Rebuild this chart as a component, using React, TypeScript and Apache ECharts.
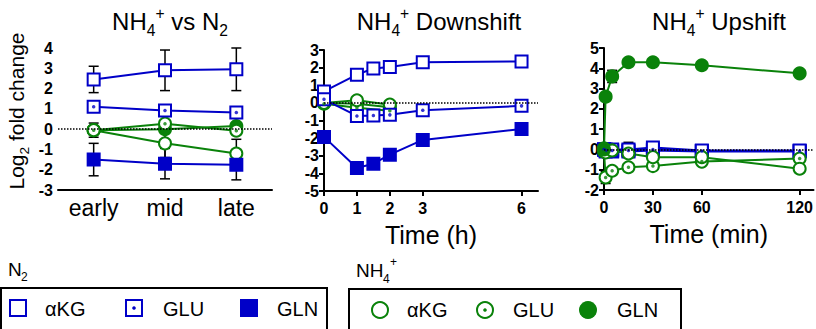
import React, { useEffect, useRef } from 'react';
import * as echarts from 'echarts';

const BLUE = '#0000c8';
const GREEN = '#0a820a';
const FONT = 'Liberation Sans, Arial, sans-serif';
const CSSFONT = '"Liberation Sans", Arial, sans-serif';

// Panel 1: NH4+ vs N2
const stages = ['early', 'mid', 'late'];
const vsN2Akg = [2.45, 2.9, 2.95];
const vsN2AkgErr = [0.65, 1.0, 1.05];
const vsN2Glu = [1.1, 0.92, 0.82];
const vsN2GluErr = [0.1, 0.1, 0.1];
const vsN2Gln = [-1.5, -1.7, -1.75];
const vsN2GlnErr = [0.8, 0.75, 0.75];
const vsNh4Akg = [-0.05, -0.7, -1.2];
const vsNh4AkgErr = [0.35, 0.7, 0.7];
const vsNh4Glu = [-0.05, 0.27, -0.08];
const vsNh4Gln = [-0.05, 0.0, 0.15];

// Panel 2: NH4+ Downshift (hours)
const downTimes = [0, 1, 1.5, 2, 3, 6];
const downN2Akg = [0.65, 1.6, 1.95, 2.03, 2.3, 2.35];
const downN2Glu = [0.2, -0.74, -0.72, -0.68, -0.42, -0.17];
const downN2GluErr = [0, 0, 0, 0, 0, 0.3];
const downN2Gln = [-1.93, -3.7, -3.45, -2.94, -2.1, -1.48];
const downN2GlnErr = [0, 0, 0, 0, 0.3, 0];
const downGreenTimes = [0, 1, 2];
const downNh4Akg = [0, 0.15, -0.1];
const downNh4Glu = [-0.05, -0.28, -0.45];
const downNh4Gln = [0, -0.05, -0.25];

// Panel 3: NH4+ Upshift (minutes)
const upTimes = [0, 1, 5, 15, 30, 60, 120];
const upNh4Gln = [0, 2.6, 3.6, 4.3, 4.3, 4.15, 3.75];
const upNh4GlnErr = [0, 0, 0.3, 0, 0, 0, 0];
const upNh4Akg = [0.05, -0.15, -0.05, -0.2, -0.38, -0.38, -0.95];
const upNh4Glu = [-0.1, -1.38, -1.05, -0.88, -0.82, -0.6, -0.45];
const upNh4GluErr = [0, 0.3, 0, 0, 0, 0, 0];
const upN2Akg = [0, 0, 0, 0.0, 0.1, -0.05, -0.05];
const upN2AkgErr = [0, 0, 0, 0.35, 0, 0, 0];
const upN2Glu = [0, -0.05, -0.05, -0.05, 0, -0.08, -0.08];
const upN2Gln = [0, -0.1, -0.1, -0.1, -0.05, -0.1, -0.1];

const xTicksDown = [0, 1, 2, 3, 6];
const xTicksUp = [0, 30, 60, 120];

type Kind = 'open' | 'dot' | 'filled';

function makeSeries(
  panel: number,
  xs: (number | string)[],
  ys: number[],
  color: string,
  kind: Kind,
  shape: 'rect' | 'circle',
  errs?: number[],
  withZero?: boolean
) {
  const data = ys.map((y, i) => [panel === 0 ? i : xs[i], y]);
  const out: any[] = [];
  if (errs) {
    const eData: any[] = [];
    errs.forEach((e, i) => {
      if (e > 0) eData.push([panel === 0 ? i : xs[i], ys[i] - e, ys[i] + e]);
    });
    out.push({
      type: 'custom',
      xAxisIndex: panel,
      yAxisIndex: panel,
      z: 1,
      silent: true,
      data: eData,
      encode: { x: 0, y: [1, 2] },
      renderItem: (params: any, api: any) => {
        const x = api.value(0);
        const lo = api.coord([x, api.value(1)]);
        const hi = api.coord([x, api.value(2)]);
        const w = 5;
        const st = { stroke: '#000', lineWidth: 1.5 };
        return {
          type: 'group',
          children: [
            { type: 'line', shape: { x1: lo[0], y1: lo[1], x2: hi[0], y2: hi[1] }, style: st },
            { type: 'line', shape: { x1: lo[0] - w, y1: lo[1], x2: lo[0] + w, y2: lo[1] }, style: st },
            { type: 'line', shape: { x1: hi[0] - w, y1: hi[1], x2: hi[0] + w, y2: hi[1] }, style: st },
          ],
        };
      },
    });
  }
  const line: any = {
    type: 'line',
    xAxisIndex: panel,
    yAxisIndex: panel,
    data,
    z: 2,
    symbol: shape,
    symbolSize: 12,
    showSymbol: true,
    silent: true,
    lineStyle: { color, width: 2 },
    itemStyle: {
      color: kind === 'filled' ? color : '#fff',
      borderColor: color,
      borderWidth: 2,
    },
    emphasis: { disabled: true },
  };
  if (withZero) {
    line.markLine = {
      silent: true,
      symbol: 'none',
      label: { show: false },
      lineStyle: { type: 'dotted', color: '#000', width: 1.5 },
      data: [{ yAxis: 0 }],
    };
  }
  out.push(line);
  if (kind === 'dot') {
    out.push({
      type: 'scatter',
      xAxisIndex: panel,
      yAxisIndex: panel,
      data,
      z: 3,
      symbol: 'circle',
      symbolSize: 3.5,
      silent: true,
      itemStyle: { color },
    });
  }
  return out;
}

const subRich = (size: number) => ({
  a: { fontSize: size, fontFamily: FONT, fontWeight: 'normal', color: '#000', lineHeight: size * 1.4 },
  s: { fontSize: size * 0.65, fontFamily: FONT, fontWeight: 'normal', color: '#000', lineHeight: size * 0.7, verticalAlign: 'bottom' },
  p: { fontSize: size * 0.65, fontFamily: FONT, fontWeight: 'normal', color: '#000', lineHeight: size * 0.7, verticalAlign: 'top' },
});

const axisBase = {
  axisLine: { onZero: false, lineStyle: { color: '#000', width: 2 } },
  axisTick: { length: 5, lineStyle: { color: '#000', width: 2 } },
  splitLine: { show: false },
};
const boldLabel = { color: '#000', fontWeight: 'bold', fontSize: 16, fontFamily: FONT };
const gText = (x: number, y: number, text: string, size: number) => ({
  type: 'text',
  x,
  y,
  style: { text, font: `${size}px ${CSSFONT}`, fill: '#000', verticalAlign: 'middle' },
});

export default function App() {
  const ref = useRef<HTMLDivElement>(null);
  useEffect(() => {
    if (!ref.current) return;
    const chart = echarts.init(ref.current, undefined, { renderer: 'svg' });

    const series: any[] = [
      ...makeSeries(0, stages, vsNh4Gln, GREEN, 'filled', 'circle', undefined, true),
      ...makeSeries(0, stages, vsNh4Glu, GREEN, 'dot', 'circle'),
      ...makeSeries(0, stages, vsNh4Akg, GREEN, 'open', 'circle', vsNh4AkgErr),
      ...makeSeries(0, stages, vsN2Akg, BLUE, 'open', 'rect', vsN2AkgErr),
      ...makeSeries(0, stages, vsN2Glu, BLUE, 'dot', 'rect', vsN2GluErr),
      ...makeSeries(0, stages, vsN2Gln, BLUE, 'filled', 'rect', vsN2GlnErr),

      ...makeSeries(1, downGreenTimes, downNh4Gln, GREEN, 'filled', 'circle', undefined, true),
      ...makeSeries(1, downGreenTimes, downNh4Glu, GREEN, 'dot', 'circle'),
      ...makeSeries(1, downGreenTimes, downNh4Akg, GREEN, 'open', 'circle'),
      ...makeSeries(1, downTimes, downN2Akg, BLUE, 'open', 'rect'),
      ...makeSeries(1, downTimes, downN2Glu, BLUE, 'dot', 'rect', downN2GluErr),
      ...makeSeries(1, downTimes, downN2Gln, BLUE, 'filled', 'rect', downN2GlnErr),

      ...makeSeries(2, upTimes, upN2Gln, BLUE, 'filled', 'rect', undefined, true),
      ...makeSeries(2, upTimes, upN2Glu, BLUE, 'dot', 'rect'),
      ...makeSeries(2, upTimes, upN2Akg, BLUE, 'open', 'rect', upN2AkgErr),
      ...makeSeries(2, upTimes, upNh4Glu, GREEN, 'dot', 'circle', upNh4GluErr),
      ...makeSeries(2, upTimes, upNh4Akg, GREEN, 'open', 'circle'),
      ...makeSeries(2, upTimes, upNh4Gln, GREEN, 'filled', 'circle', upNh4GlnErr),
    ];

    const titleStyle = { fontWeight: 'normal', rich: subRich(24) };

    const option: any = {
      animation: false,
      backgroundColor: '#fff',
      title: [
        { text: '{a|NH}{s|4}{p|+}{a| vs N}{s|2}', left: 165, top: 0, textAlign: 'center', textStyle: titleStyle },
        { text: '{a|NH}{s|4}{p|+}{a| Downshift}', left: 434, top: 0, textAlign: 'center', textStyle: titleStyle },
        { text: '{a|NH}{s|4}{p|+}{a| Upshift}', left: 714, top: 0, textAlign: 'center', textStyle: titleStyle },
      ],
      grid: [
        { left: 58, top: 48, width: 214, height: 142 },
        { left: 324, top: 50, width: 214, height: 141 },
        { left: 604, top: 48, width: 212, height: 142 },
      ],
      xAxis: [
        {
          ...axisBase,
          gridIndex: 0,
          type: 'category',
          data: stages,
          boundaryGap: true,
          axisTick: { ...axisBase.axisTick, alignWithLabel: true },
          axisLabel: { color: '#000', fontSize: 23, fontFamily: FONT, margin: 6 },
        },
        {
          ...axisBase,
          gridIndex: 1,
          type: 'value',
          min: 0,
          max: 6.5,
          axisTick: { ...axisBase.axisTick, customValues: xTicksDown },
          axisLabel: { ...boldLabel, customValues: xTicksDown, margin: 9 },
          name: 'Time (h)',
          nameLocation: 'middle',
          nameGap: 31,
          nameTextStyle: { color: '#000', fontSize: 25, fontFamily: FONT },
        },
        {
          ...axisBase,
          gridIndex: 2,
          type: 'value',
          min: 0,
          max: 128.5,
          axisTick: { ...axisBase.axisTick, customValues: xTicksUp },
          axisLabel: { ...boldLabel, customValues: xTicksUp, margin: 9 },
          name: 'Time (min)',
          nameLocation: 'middle',
          nameGap: 31,
          nameTextStyle: { color: '#000', fontSize: 25, fontFamily: FONT },
        },
      ],
      yAxis: [
        {
          ...axisBase,
          gridIndex: 0,
          type: 'value',
          min: -3,
          max: 4,
          interval: 1,
          axisLabel: { ...boldLabel, margin: 5 },
          name: '{a|Log}{s|2}{a| fold change}',
          nameLocation: 'middle',
          nameRotate: 90,
          nameGap: 27,
          nameTextStyle: { rich: subRich(21), padding: [0, 0, 0, 16] },
        },
        {
          ...axisBase,
          gridIndex: 1,
          type: 'value',
          min: -5,
          max: 3,
          interval: 1,
          axisLabel: { ...boldLabel, margin: 5 },
        },
        {
          ...axisBase,
          gridIndex: 2,
          type: 'value',
          min: -2,
          max: 5,
          interval: 1,
          axisLabel: { ...boldLabel, margin: 5 },
        },
      ],
      series,
      graphic: [
        gText(8, 269, 'N', 19),
        gText(21, 277, '2', 12),
        { type: 'rect', shape: { x: 1, y: 288, width: 326, height: 100 }, style: { fill: 'none', stroke: '#000', lineWidth: 2 } },
        { type: 'rect', shape: { x: 10, y: 300, width: 16, height: 16 }, style: { fill: '#fff', stroke: BLUE, lineWidth: 2 } },
        gText(45, 309, 'αKG', 20),
        { type: 'rect', shape: { x: 126, y: 300, width: 16, height: 16 }, style: { fill: '#fff', stroke: BLUE, lineWidth: 2 } },
        { type: 'circle', shape: { cx: 134, cy: 308, r: 1.8 }, style: { fill: BLUE } },
        gText(163, 309, 'GLU', 20),
        { type: 'rect', shape: { x: 240, y: 299, width: 18, height: 18 }, style: { fill: BLUE } },
        gText(277, 309, 'GLN', 20),

        gText(356, 270, 'NH', 19),
        gText(383, 279, '4', 12),
        gText(390, 262, '+', 12),
        { type: 'rect', shape: { x: 349, y: 289, width: 332, height: 100 }, style: { fill: 'none', stroke: '#000', lineWidth: 2 } },
        { type: 'circle', shape: { cx: 380, cy: 310, r: 8 }, style: { fill: '#fff', stroke: GREEN, lineWidth: 2 } },
        gText(407, 310, 'αKG', 20),
        { type: 'circle', shape: { cx: 485, cy: 310, r: 8 }, style: { fill: '#fff', stroke: GREEN, lineWidth: 2 } },
        { type: 'circle', shape: { cx: 485, cy: 310, r: 1.8 }, style: { fill: GREEN } },
        gText(513, 310, 'GLU', 20),
        { type: 'circle', shape: { cx: 588, cy: 310, r: 9 }, style: { fill: GREEN } },
        gText(617, 310, 'GLN', 20),
      ],
    };
    chart.setOption(option);
    return () => chart.dispose();
  }, []);
  return <div ref={ref} style={{ position: 'fixed', left: 0, top: 0, width: 816, height: 329 }} />;
}
